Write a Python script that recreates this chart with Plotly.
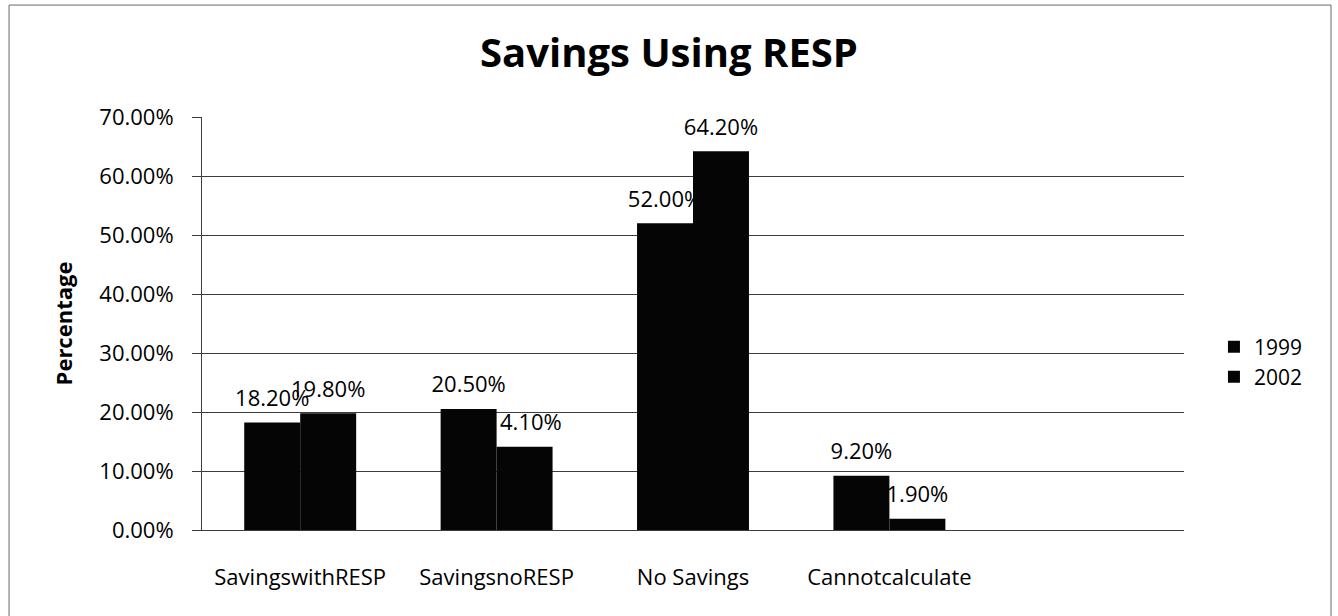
import plotly.graph_objects as go

# ---- data ----
categories = ["SavingswithRESP", "SavingsnoRESP", "No Savings", "Cannotcalculate"]
series_names = ["1999", "2002"]
values_1999 = [0.182, 0.205, 0.520, 0.092]
values_2002 = [0.198, 0.141, 0.642, 0.019]
y_tick_values = [0.0, 0.1, 0.2, 0.3, 0.4, 0.5, 0.6, 0.7]

series_values = [values_1999, values_2002]

# ---- styling ----
FONT = "Open Sans"
BAR_COLOR = "#050505"
GRID_COLOR = "#3c3c3c"
BAR_WIDTH = 0.285
LABEL_LIFT = 0.013          # small gap between bar top and its data label
offsets = [-BAR_WIDTH, 0.0]
legend_ids = ["legend", "legend2"]

fig = go.Figure()

# data-label carriers first (so the real bars are painted over them, as in the reference)
for name, vals, off in zip(series_names, series_values, offsets):
    fig.add_trace(go.Bar(
        x=categories, y=vals, base=LABEL_LIFT, width=BAR_WIDTH, offset=off,
        marker=dict(color="rgba(0,0,0,0)", line=dict(width=0)),
        texttemplate="%{y:.2%}", textposition="outside",
        textfont=dict(family=FONT, size=22, color="black"),
        constraintext="none", cliponaxis=False,
        showlegend=False, hoverinfo="skip",
    ))

# the bars
for name, vals, off, lg in zip(series_names, series_values, offsets, legend_ids):
    fig.add_trace(go.Bar(
        x=categories, y=vals, name=name, width=BAR_WIDTH, offset=off,
        marker=dict(color=BAR_COLOR, line=dict(width=0)),
        legend=lg,
    ))

legend_style = dict(xanchor="left", yanchor="middle",
                    font=dict(family=FONT, size=21, color="black"),
                    bgcolor="rgba(0,0,0,0)", borderwidth=0)

fig.update_layout(
    width=1338, height=616,
    margin=dict(l=202, r=154, t=117, b=86),
    barmode="overlay",
    paper_bgcolor="white", plot_bgcolor="white",
    font=dict(family=FONT, size=22, color="black"),
    title=dict(text="<b>Savings Using RESP</b>", xref="container", x=0.5, xanchor="center",
               yref="container", y=1 - 53 / 616, yanchor="middle",
               font=dict(family=FONT, size=40, color="black")),
    legend=dict(x=1.0305, y=0.443, **legend_style),
    legend2=dict(x=1.0305, y=0.370, **legend_style),
    showlegend=True,
    xaxis=dict(type="category", range=[-0.5, 4.5], showgrid=False,
               showline=True, linecolor=GRID_COLOR, linewidth=1,
               ticks="", ticklabelstandoff=28,
               tickfont=dict(family=FONT, size=22, color="black")),
    yaxis=dict(range=[0, 0.70], tickvals=y_tick_values, tickformat=".2%",
               showgrid=True, gridcolor=GRID_COLOR, gridwidth=1,
               showline=True, linecolor=GRID_COLOR, linewidth=1,
               ticks="outside", ticklen=9, tickcolor=GRID_COLOR, tickwidth=1,
               ticklabelstandoff=14, zeroline=False,
               tickfont=dict(family=FONT, size=22, color="black"),
               title=dict(text="<b>Percentage</b>", standoff=20,
                          font=dict(family=FONT, size=22, color="black"))),
    shapes=[dict(type="rect", xref="paper", yref="paper",
                 x0=-0.1965, x1=1.1497, y0=-0.22, y1=1.271,
                 line=dict(color="#6a6a6a", width=1), fillcolor="rgba(0,0,0,0)",
                 layer="below")],
)

fig.write_html("out.html")
